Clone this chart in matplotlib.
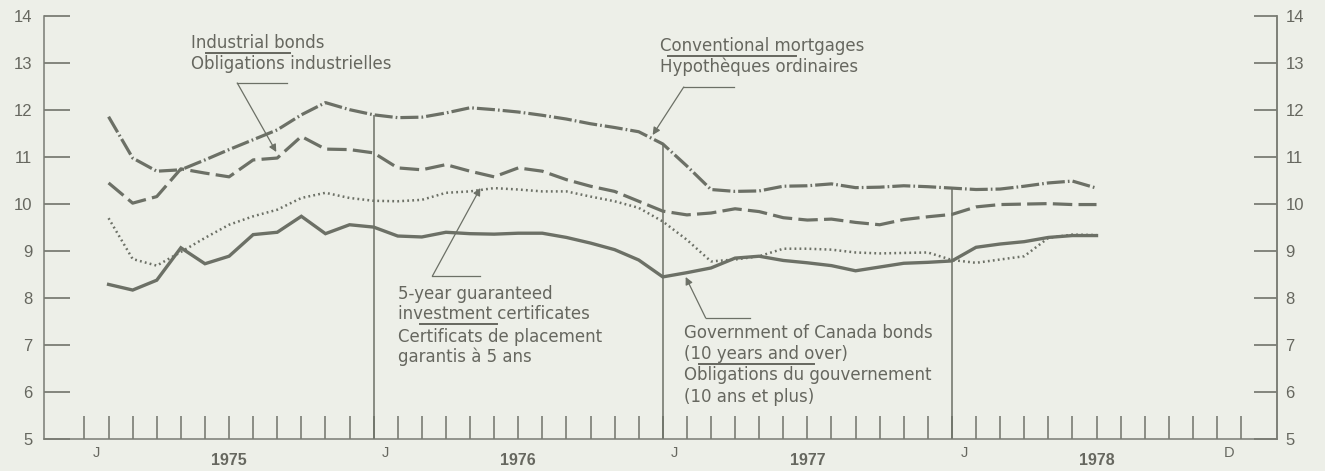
import matplotlib
matplotlib.use('Agg')
import matplotlib.pyplot as plt
import matplotlib.transforms as mtransforms
import numpy as np

plt.rcParams['font.family'] = ['Liberation Sans', 'DejaVu Sans']
plt.rcParams['lines.scale_dashes'] = False

# ---------------- data (monthly, Jan 1975 .. Jun 1978, plotted at month end) -------------
months = np.arange(1, 43)

mortgages = [11.85, 10.97, 10.69, 10.72, 10.93, 11.15, 11.36, 11.57, 11.89, 12.15, 12.00, 11.89,
             11.83, 11.84, 11.93, 12.04, 12.00, 11.95, 11.88, 11.80, 11.70, 11.62, 11.53, 11.27,
             10.80, 10.30, 10.26, 10.27, 10.37, 10.38, 10.42, 10.34, 10.35, 10.38, 10.36, 10.33,
             10.30, 10.31, 10.37, 10.44, 10.48, 10.33]

industrial = [10.44, 10.01, 10.15, 10.74, 10.65, 10.57, 10.93, 10.97, 11.43, 11.16, 11.15, 11.08,
              10.76, 10.72, 10.83, 10.69, 10.57, 10.76, 10.69, 10.51, 10.37, 10.26, 10.05, 9.84,
              9.76, 9.80, 9.89, 9.83, 9.70, 9.65, 9.67, 9.60, 9.55, 9.66, 9.72, 9.77,
              9.93, 9.98, 9.99, 10.00, 9.98, 9.98]

gic = [9.69, 8.82, 8.68, 8.97, 9.27, 9.55, 9.73, 9.87, 10.12, 10.23, 10.12, 10.06,
       10.05, 10.08, 10.23, 10.26, 10.33, 10.30, 10.26, 10.26, 10.15, 10.05, 9.91, 9.62,
       9.23, 8.77, 8.81, 8.88, 9.04, 9.04, 9.02, 8.96, 8.94, 8.95, 8.96, 8.80,
       8.74, 8.81, 8.88, 9.27, 9.34, 9.33]

gov = [8.28, 8.16, 8.37, 9.06, 8.72, 8.88, 9.34, 9.39, 9.73, 9.36, 9.55, 9.50,
       9.31, 9.29, 9.39, 9.36, 9.35, 9.37, 9.37, 9.28, 9.16, 9.02, 8.80, 8.44,
       8.53, 8.63, 8.84, 8.88, 8.79, 8.74, 8.68, 8.57, 8.65, 8.73, 8.75, 8.78,
       9.07, 9.14, 9.19, 9.28, 9.32, 9.32]

month_ticks = np.arange(0, 49)
year_starts = [12, 24, 36]
y_ticks = [5, 6, 7, 8, 9, 10, 11, 12, 13, 14]
month_labels = ['J', 'J', 'J', 'J', 'D']
month_label_pos = [0.5, 12.5, 24.5, 36.5, 47.5]
year_labels = ['1975', '1976', '1977', '1978']
year_label_pos = [6, 18, 30, 42]

# ---------------- style ----------------
BG = '#edefe8'
LC = '#6c7066'
TC = '#66675f'
AX = '#7a7c74'

W, H = 1325, 471
fig = plt.figure(figsize=(W / 100, H / 100), dpi=100)
fig.patch.set_facecolor(BG)

x_left_px, x_right_px = 44, 1277
y_top_px, y_bot_px = 15.7, 438.5
ax = fig.add_axes([x_left_px / W, (H - y_bot_px) / H,
                   (x_right_px - x_left_px) / W, (y_bot_px - y_top_px) / H])
ax.set_facecolor(BG)
ax.set_xlim(-1.68, 49.49)
ax.set_ylim(5, 14)

ax.spines['top'].set_visible(False)
for s in ['left', 'right', 'bottom']:
    ax.spines[s].set_color(AX)
    ax.spines[s].set_linewidth(1.1)

ax.set_yticks(y_ticks)
ax.set_yticklabels([str(v) for v in y_ticks])
ax.tick_params(axis='y', direction='in', length=18.5, width=1.3, color=AX,
               labelsize=12, labelcolor=TC, pad=8.5, left=True, right=False)

ax2 = ax.twinx()
ax2.set_ylim(5, 14)
ax2.set_yticks(y_ticks)
ax2.set_yticklabels([str(v) for v in y_ticks])
ax2.tick_params(axis='y', direction='in', length=16.5, width=1.3, color=AX,
                labelsize=12, labelcolor=TC, pad=6)
for s in ['top', 'left', 'bottom']:
    ax2.spines[s].set_visible(False)
ax2.spines['right'].set_color(AX)
ax2.spines['right'].set_linewidth(1.1)

ax.set_xticks(month_ticks)
ax.tick_params(axis='x', direction='in', length=16.5, width=1.2, color=AX,
               labelbottom=False)

trans = mtransforms.blended_transform_factory(ax.transData, ax.transAxes)
for p, lab in zip(month_label_pos, month_labels):
    ax.text(p, -0.034, lab, transform=trans, ha='center', va='center',
            fontsize=10.5, color=TC)
for p, lab in zip(year_label_pos, year_labels):
    ax.text(p, -0.051, lab, transform=trans, ha='center', va='center',
            fontsize=11.5, fontweight='bold', color=TC)

# year separators up to the mortgage line
tops = [mortgages[list(months).index(x)] for x in year_starts]
ax.vlines(year_starts, 5, tops, color=LC, lw=1.1)

# ---------------- series ----------------
ax.plot(months, mortgages, color=LC, lw=2.3, dashes=(13, 2.2, 1.2, 2.2),
        dash_capstyle='butt')
ax.plot(months, industrial, color=LC, lw=2.3, dashes=(14, 4.5), dash_capstyle='butt')
ax.plot(months, gic, color=LC, lw=1.8, dashes=(1.3, 2.3), dash_capstyle='butt')
ax.plot(months, gov, color=LC, lw=2.4, solid_joinstyle='miter')

# ---------------- annotations ----------------
FS = 12
FONT = ['DejaVu Sans']


def label_block(x, baselines, lines):
    for yb, t in zip(baselines, lines):
        ax.text(x, yb, t, ha='left', va='baseline', fontsize=FS, color=TC,
                family=FONT)


def leader(start, end_h, tip):
    ax.plot([start[0], end_h], [start[1], start[1]], color=LC, lw=0.9)
    ax.annotate('', xy=tip, xytext=start,
                arrowprops=dict(arrowstyle='-|>', lw=0.9, color=LC,
                                mutation_scale=11, shrinkA=0, shrinkB=0))


def underline(x0, x1, y):
    ax.plot([x0, x1], [y, y], color=TC, lw=1.4)


label_block(4.42, [13.306, 12.859], ['Industrial bonds', 'Obligations industrielles'])
underline(5.05, 8.54, 13.215)
leader((6.34, 12.568), 8.41, (7.96, 11.099))

label_block(23.87, [13.238, 12.791], ['Conventional mortgages', 'Hypothèques ordinaires'])
underline(24.2, 29.52, 13.135)
leader((24.87, 12.482), 26.94, (23.58, 11.461))

label_block(13.02, [7.970, 7.544, 7.055, 6.629],
            ['5-year guaranteed', 'investment certificates',
             'Certificats de placement', 'garantis à 5 ans'])
underline(13.94, 17.14, 7.430)
leader((14.44, 8.459), 16.43, (16.43, 10.332))

label_block(24.87, [7.139, 6.692, 6.245, 5.777],
            ['Government of Canada bonds', '(10 years and over)',
             'Obligations du gouvernement', '(10 ans et plus)'])
underline(25.49, 30.27, 6.595)
leader((25.78, 7.565), 27.61, (24.95, 8.438))

fig.savefig('out.png', dpi=100, facecolor=BG)
